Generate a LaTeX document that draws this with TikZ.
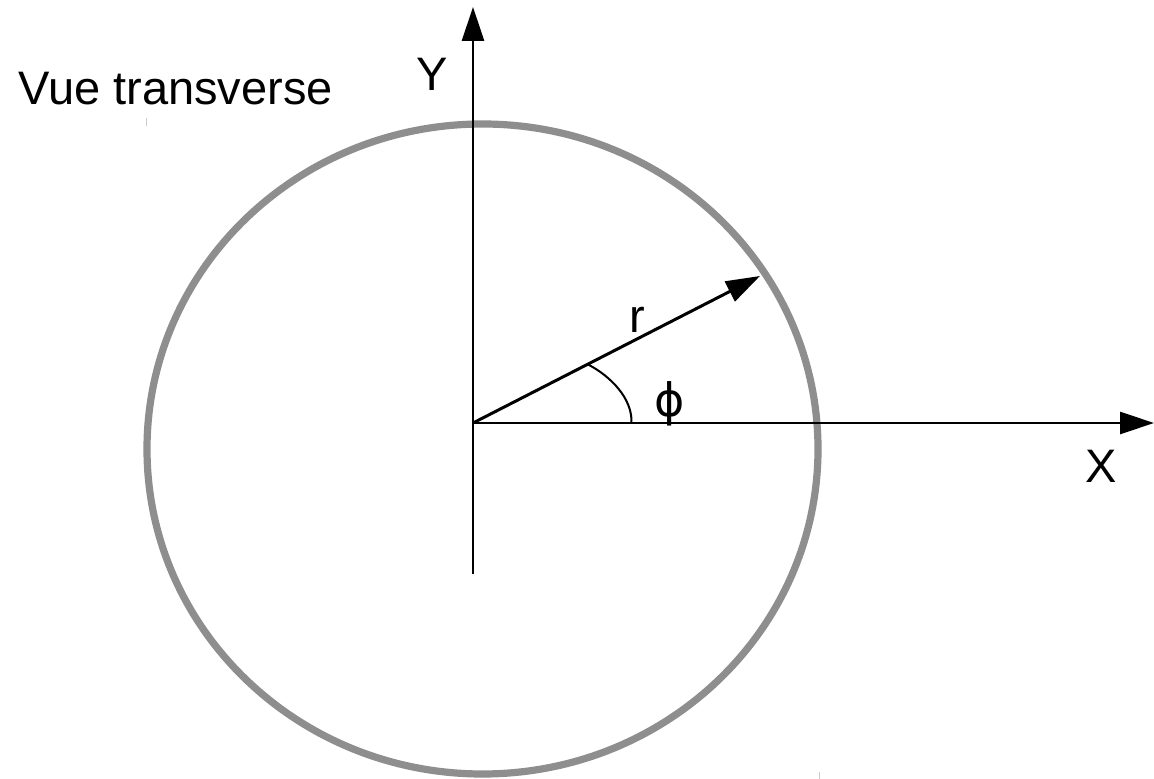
\documentclass[tikz,border=0pt]{standalone}
\usepackage{fontspec}
\setmainfont{Liberation Sans}
\newfontfamily\phifont{DejaVu Sans}
\usetikzlibrary{arrows.meta}
\definecolor{rimgray}{RGB}{142,142,142}

\begin{document}
\begin{tikzpicture}[
    x=0.5pt, y=-0.5pt,
    >={Triangle[length=17pt, width=11pt]},
    axis/.style={->, line width=1.4pt},
    rim/.style={draw=rimgray, line width=3.6pt},
    lbl/.style={font=\fontsize{23.5}{28}\selectfont, inner sep=0pt, anchor=base},
]
\useasboundingbox (0,0) rectangle (1154,779);

%--- Coordinates ---
\def\Ox{473}   % origin x
\def\Oy{423}   % origin y
\coordinate (O) at (\Ox,\Oy);
\coordinate (C) at (482.5,449);   % centre of the section
\coordinate (Ytop) at (\Ox,7);
\coordinate (Ybot) at (\Ox,574);
\coordinate (Xend) at (1154,\Oy);
\coordinate (Rtip) at (760,276);
\coordinate (Astart) at (588.3,364.6);  % angle arc on r
\coordinate (Aend) at (631.5,\Oy);      % angle arc on X

%--- Section outline ---
\draw[rim] (C) ellipse [x radius=335.5, y radius=325];

%--- Axes ---
\draw[axis] (Ybot) -- (Ytop);
\draw[axis] (O) -- (Xend);

%--- Radius vector and angle ---
\draw[axis, line width=1.5pt] (O) -- (Rtip);
\draw[line width=1pt] (Astart) .. controls (610,376) and (632.5,398) .. (Aend);

%--- Labels ---
\node[lbl, anchor=base west] (title) at (18,105) {Vue transverse};
\node[lbl] (ylab) at (432,91) {Y};
\node[lbl] (xlab) at (1101,482) {X};
\node[lbl] (rlab) at (637,333) {r};
\node[lbl, anchor=center, font=\phifont\fontsize{23}{27}\selectfont] (philab) at (670,404) {ϕ};

%--- small marks ---
\draw[gray!40, line width=0.6pt] (146.5,118) -- (146.5,126);
\draw[gray!40, line width=0.6pt] (819.5,772) -- (819.5,779);

\end{tikzpicture}
\end{document}
